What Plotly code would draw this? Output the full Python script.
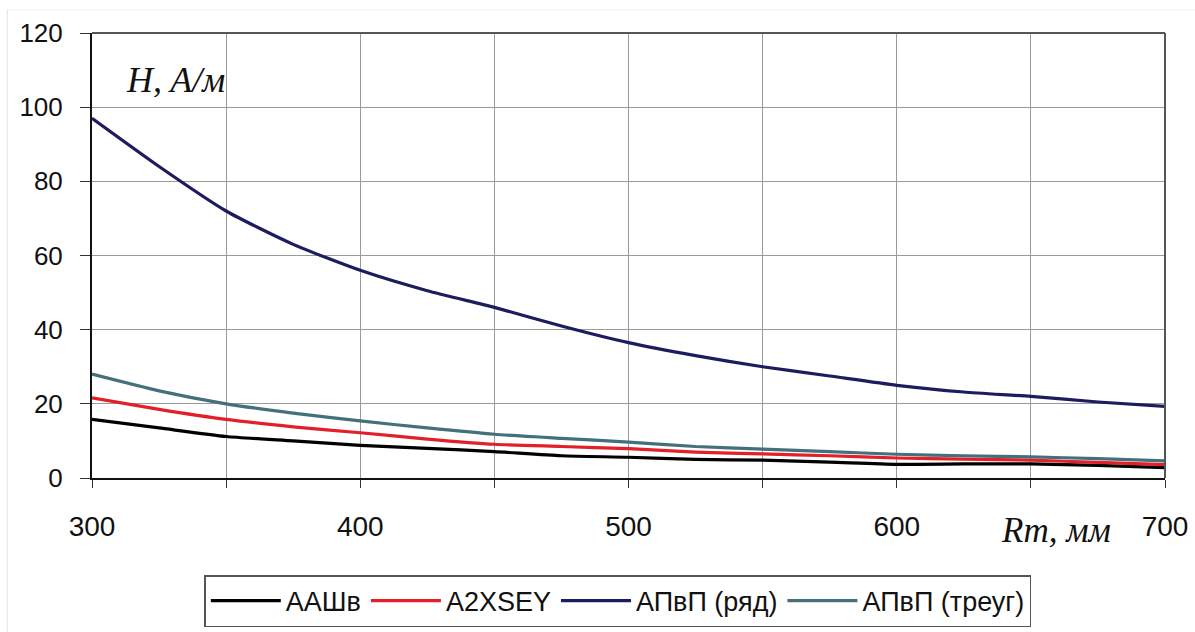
import plotly.graph_objects as go

rm = [300, 325, 350, 375, 400, 425, 450, 475, 500, 525, 550, 575, 600, 625, 650, 675, 700]
aashv = [15.8, 13.5, 11.2, 10.0, 8.8, 8.0, 7.1, 6.0, 5.6, 5.0, 4.8, 4.3, 3.7, 3.8, 3.8, 3.4, 2.8]
a2xsey = [21.6, 18.5, 15.8, 13.8, 12.2, 10.5, 9.1, 8.5, 7.9, 7.0, 6.5, 6.0, 5.4, 5.1, 4.8, 4.2, 3.6]
apvp_row = [97.0, 84.0, 72.0, 63.0, 56.0, 50.5, 46.0, 41.0, 36.5, 33.0, 30.0, 27.5, 25.0, 23.2, 22.0, 20.5, 19.3]
apvp_tri = [28.0, 23.5, 20.0, 17.5, 15.4, 13.5, 11.8, 10.7, 9.7, 8.5, 7.8, 7.1, 6.4, 6.0, 5.7, 5.2, 4.6]

series = [
    ("ААШв", aashv, "#000000"),
    ("A2XSEY", a2xsey, "#e3202a"),
    ("АПвП (ряд)", apvp_row, "#1c1c5e"),
    ("АПвП (треуг)", apvp_tri, "#43707a"),
]

fig = go.Figure()
for name, ys, col in series:
    fig.add_trace(go.Scatter(x=rm, y=ys, mode="lines", name=name,
                             line=dict(color=col, width=3.2, shape="spline", smoothing=0.6)))

xfont = dict(family="Liberation Sans, Arial, sans-serif", size=28, color="#111")
yfont = dict(family="Liberation Sans, Arial, sans-serif", size=26, color="#111")
fig.update_layout(
    width=1195, height=632,
    margin=dict(l=92, r=30, t=33, b=154, autoexpand=False),
    paper_bgcolor="white", plot_bgcolor="white",
    showlegend=True,
    legend=dict(orientation="h", xref="container", yref="container",
                x=0.517, xanchor="center", y=1 - 575 / 632, yanchor="top",
                bordercolor="#555", borderwidth=1.5, bgcolor="white",
                font=dict(family="Liberation Sans, Arial, sans-serif", size=27, color="#111"),
                itemwidth=70, tracegroupgap=0),
    xaxis=dict(range=[300, 700], dtick=100, tick0=300, showgrid=True, gridcolor="#9a9a9a", gridwidth=1,
               ticks="outside", ticklen=8, tickcolor="#333", ticklabelstandoff=14, automargin=False,
               minor=dict(dtick=50, showgrid=True, gridcolor="#9a9a9a", ticks="outside", ticklen=8, tickcolor="#333"),
               showline=True, linecolor="#111", linewidth=2, zeroline=False, tickfont=xfont),
    yaxis=dict(range=[0, 120], dtick=20, showgrid=True, gridcolor="#9a9a9a", gridwidth=1,
               ticks="outside", ticklen=10, tickcolor="#333", ticklabelstandoff=12, automargin=False,
               showline=True, linecolor="#111", linewidth=2, zeroline=False, tickfont=yfont),
    shapes=[
        dict(type="line", xref="paper", yref="paper", x0=0, x1=1, y0=1, y1=1, line=dict(color="#555", width=2)),
        dict(type="line", xref="paper", yref="paper", x0=1, x1=1, y0=0, y1=1, line=dict(color="#555", width=2)),
        dict(type="line", xref="paper", yref="paper", x0=-0.079, x1=1.03, y0=1.052, y1=1.052, line=dict(color="#ececec", width=1)),
        dict(type="line", xref="paper", yref="paper", x0=-0.079, x1=-0.079, y0=1.052, y1=-0.35, line=dict(color="#e4e4e4", width=1)),
    ],
    annotations=[
        dict(text="<i>H, A/м</i>", xref="paper", yref="paper", x=0.030, y=0.895, xanchor="left", yanchor="middle",
             showarrow=False, font=dict(family="Liberation Serif, Times New Roman, serif", size=36, color="#111")),
        dict(text="<i>Rm, мм</i>", xref="paper", yref="paper", x=0.845, y=-0.118, xanchor="left", yanchor="middle",
             showarrow=False, font=dict(family="Liberation Serif, Times New Roman, serif", size=35, color="#111")),
    ],
)

fig.write_html("out.html")
